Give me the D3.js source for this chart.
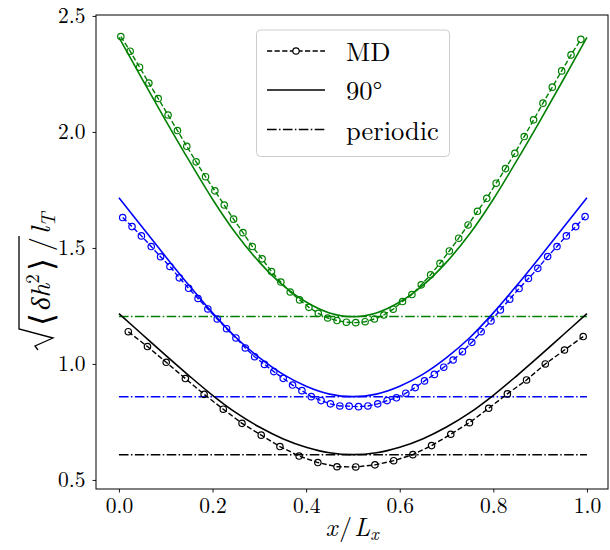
<!DOCTYPE html>
<html>
<head>
<meta charset="utf-8">
<script src="https://cdn.jsdelivr.net/npm/d3@7"></script>
<style>
  html, body { margin: 0; padding: 0; background: #fff; }
  svg { display: block; }
</style>
</head>
<body>
<svg id="chart" width="610" height="550"></svg>
<script>
// ---------------- data ----------------
const xTicks = [0.0, 0.2, 0.4, 0.6, 0.8, 1.0];
const yTicks = [0.5, 1.0, 1.5, 2.0, 2.5];

// MD simulation points
const greenMDx = [0.004,0.024,0.044,0.064,0.084,0.105,0.125,0.145,0.165,0.185,0.205,0.225,0.245,0.265,0.285,0.306,0.326,0.346,0.366,0.386,0.406,0.426,0.446,0.466,0.486,0.506,0.526,0.546,0.566,0.586,0.606,0.626,0.646,0.666,0.686,0.706,0.726,0.746,0.766,0.786,0.806,0.826,0.846,0.866,0.886,0.906,0.926,0.946,0.966,0.987];
const greenMD  = [2.411,2.348,2.279,2.211,2.144,2.073,2.006,1.938,1.871,1.807,1.746,1.685,1.624,1.566,1.506,1.453,1.398,1.353,1.310,1.276,1.244,1.218,1.198,1.187,1.180,1.178,1.182,1.194,1.211,1.236,1.269,1.299,1.341,1.384,1.434,1.487,1.542,1.599,1.658,1.714,1.779,1.842,1.908,1.980,2.052,2.124,2.193,2.263,2.332,2.399];

const blueMDx = [0.008,0.028,0.048,0.069,0.089,0.109,0.129,0.149,0.169,0.190,0.210,0.230,0.250,0.270,0.290,0.311,0.331,0.351,0.371,0.391,0.411,0.432,0.452,0.472,0.492,0.512,0.532,0.553,0.573,0.593,0.613,0.633,0.653,0.674,0.694,0.714,0.734,0.754,0.774,0.795,0.815,0.835,0.855,0.875,0.895,0.916,0.936,0.956,0.976,0.996];
const blueMD  = [1.631,1.592,1.552,1.506,1.462,1.420,1.371,1.326,1.282,1.237,1.194,1.152,1.112,1.069,1.031,0.998,0.967,0.938,0.909,0.885,0.859,0.842,0.828,0.819,0.818,0.816,0.819,0.828,0.842,0.854,0.874,0.898,0.927,0.955,0.986,1.017,1.053,1.093,1.139,1.185,1.233,1.279,1.325,1.368,1.412,1.463,1.506,1.552,1.592,1.635];

const blackMDx = [0.020,0.061,0.101,0.142,0.182,0.223,0.263,0.304,0.344,0.385,0.425,0.466,0.506,0.547,0.587,0.628,0.668,0.709,0.749,0.790,0.830,0.871,0.911,0.952,0.992];
const blackMD  = [1.139,1.075,1.007,0.937,0.869,0.805,0.744,0.693,0.644,0.603,0.575,0.557,0.556,0.565,0.583,0.609,0.648,0.697,0.747,0.809,0.871,0.931,1.000,1.060,1.118];

// 90 degree model curves
const modelX   = [0,0.05,0.1,0.15,0.2,0.25,0.3,0.35,0.4,0.45,0.5,0.55,0.6,0.65,0.7,0.75,0.8,0.85,0.9,0.95,1.0];
const green90  = [2.408,2.227,2.049,1.876,1.710,1.562,1.439,1.340,1.267,1.220,1.204,1.220,1.267,1.340,1.439,1.562,1.710,1.876,2.049,2.227,2.408];
const blue90   = [1.716,1.589,1.462,1.338,1.220,1.114,1.027,0.956,0.904,0.870,0.859,0.870,0.904,0.956,1.027,1.114,1.220,1.338,1.462,1.589,1.716];
const black90  = [1.217,1.127,1.037,0.949,0.865,0.790,0.728,0.678,0.641,0.617,0.609,0.617,0.641,0.678,0.728,0.790,0.865,0.949,1.037,1.127,1.217];

// periodic levels
const periodicX = [0, 1];
const greenPer = 1.204, bluePer = 0.859, blackPer = 0.609;

const series = [
  {color: "green", mdx: greenMDx, md: greenMD, m90: green90, per: greenPer},
  {color: "blue",  mdx: blueMDx,  md: blueMD,  m90: blue90,  per: bluePer},
  {color: "black", mdx: blackMDx, md: blackMD, m90: black90, per: blackPer}
];

// ---------------- layout ----------------
const FONT = "'Latin Modern Roman', 'Liberation Serif', serif";
const L = 96, R = 608, T = 15, B = 489;
const svg = d3.select("#chart");
const x = d3.scaleLinear().domain([-0.049, 1.045]).range([L, R]);
const y = d3.scaleLinear().domain([0.461, 2.504]).range([B, T]);

svg.append("clipPath").attr("id", "clip").append("rect")
  .attr("x", L).attr("y", T).attr("width", R - L).attr("height", B - T);
const plot = svg.append("g").attr("clip-path", "url(#clip)");

const line = d3.line().x(d => x(d[0])).y(d => y(d[1]));
const smooth = d3.line().x(d => x(d[0])).y(d => y(d[1])).curve(d3.curveCatmullRom.alpha(0.5));

series.forEach(s => {
  const pts = s.mdx.map((v, i) => [v, s.md[i]]);
  plot.append("path").attr("d", line(pts))
    .attr("fill", "none").attr("stroke", s.color).attr("stroke-width", 1.4)
    .attr("stroke-dasharray", "5.2,2.4");
  plot.selectAll(null).data(pts).enter().append("circle")
    .attr("cx", d => x(d[0])).attr("cy", d => y(d[1])).attr("r", 3.2)
    .attr("fill", "none").attr("stroke", s.color).attr("stroke-width", 1.2);
  plot.append("path").attr("d", smooth(modelX.map((v, i) => [v, s.m90[i]])))
    .attr("fill", "none").attr("stroke", s.color).attr("stroke-width", 1.6);
  plot.append("path").attr("d", line(periodicX.map(v => [v, s.per])))
    .attr("fill", "none").attr("stroke", s.color).attr("stroke-width", 1.5)
    .attr("stroke-dasharray", "9.6,2.4,1.5,2.4");
});

// ---------------- axes ----------------
const fmt = d3.format(".1f");
const xAxis = svg.append("g").attr("transform", `translate(0,${B})`)
  .call(d3.axisBottom(x).tickValues(xTicks).tickFormat(fmt).tickSize(3.5).tickPadding(5));
const yAxis = svg.append("g").attr("transform", `translate(${L},0)`)
  .call(d3.axisLeft(y).tickValues(yTicks).tickFormat(fmt).tickSize(3.5).tickPadding(7));
[xAxis, yAxis].forEach(a => {
  a.attr("font-family", FONT).attr("font-size", 21.5);
  a.select(".domain").remove();
  a.selectAll(".tick line").attr("stroke", "#000").attr("stroke-width", 0.9);
  a.selectAll(".tick text").attr("font-family", FONT).attr("font-size", 21.5).attr("fill", "#000");
});

svg.append("rect").attr("x", L).attr("y", T).attr("width", R - L).attr("height", B - T)
  .attr("fill", "none").attr("stroke", "#000").attr("stroke-width", 1);

// x label: x/L_x
const xl = svg.append("text").attr("x", 352).attr("y", 536).attr("text-anchor", "middle")
  .attr("font-family", FONT).attr("font-size", 25.5).attr("fill", "#000");
xl.append("tspan").attr("font-style", "italic").text("x");
xl.append("tspan").attr("dx", 2).text("/");
xl.append("tspan").attr("dx", 2).attr("font-style", "italic").text("L");
xl.append("tspan").attr("font-style", "italic").attr("font-size", 18).attr("dy", 4).text("x");

// y label: sqrt(<δh^2>)/l_T
const yl = svg.append("g").attr("transform", "translate(50,350) rotate(-90)");
yl.append("path").attr("d", "M0,-12 L4,-15 L12,3 L21,-31 L114,-31")
  .attr("fill", "none").attr("stroke", "#000").attr("stroke-width", 1.3);
const yt = yl.append("text").attr("x", 24).attr("y", 0).attr("font-family", FONT)
  .attr("font-size", 27).attr("fill", "#000");
yt.append("tspan").attr("font-size", 33).attr("dy", 3).text("\u27E8");
yt.append("tspan").attr("font-style", "italic").attr("dy", -3).attr("dx", 3).text("\u03B4h");
yt.append("tspan").attr("font-size", 19).attr("dy", -11).text("2");
yt.append("tspan").attr("font-size", 33).attr("dy", 14).attr("dx", 3).text("\u27E9");
yt.append("tspan").attr("dy", -3).attr("dx", 7).attr("font-size", 28).text("/");
yt.append("tspan").attr("font-style", "italic").attr("dx", 3).attr("font-size", 28).text("l");
yt.append("tspan").attr("font-style", "italic").attr("font-size", 20).attr("dy", 5).text("T");

// ---------------- legend ----------------
const lg = svg.append("g");
lg.append("rect").attr("x", 256.5).attr("y", 30).attr("width", 193).attr("height", 126.5)
  .attr("rx", 4).attr("fill", "#fff").attr("fill-opacity", 0.8)
  .attr("stroke", "#cccccc").attr("stroke-width", 1);
const legendItems = [
  {label: "MD", dash: "5.2,2.4", marker: true, w: 1.4, yy: 51},
  {label: "90\u00B0", dash: null, marker: false, w: 1.6, yy: 90},
  {label: "periodic", dash: "9.6,2.4,1.5,2.4", marker: false, w: 1.5, yy: 129.5}
];
legendItems.forEach(it => {
  const p = lg.append("line").attr("x1", 267).attr("x2", 325).attr("y1", it.yy).attr("y2", it.yy)
    .attr("stroke", "#000").attr("stroke-width", it.w);
  if (it.dash) p.attr("stroke-dasharray", it.dash);
  if (it.marker) lg.append("circle").attr("cx", 296).attr("cy", it.yy).attr("r", 3.2)
    .attr("fill", "#fff").attr("stroke", "#000").attr("stroke-width", 1.2);
  lg.append("text").attr("x", 346).attr("y", it.yy + 10).attr("font-family", FONT)
    .attr("font-size", 26.5).attr("fill", "#000").text(it.label);
});
</script>
</body>
</html>
